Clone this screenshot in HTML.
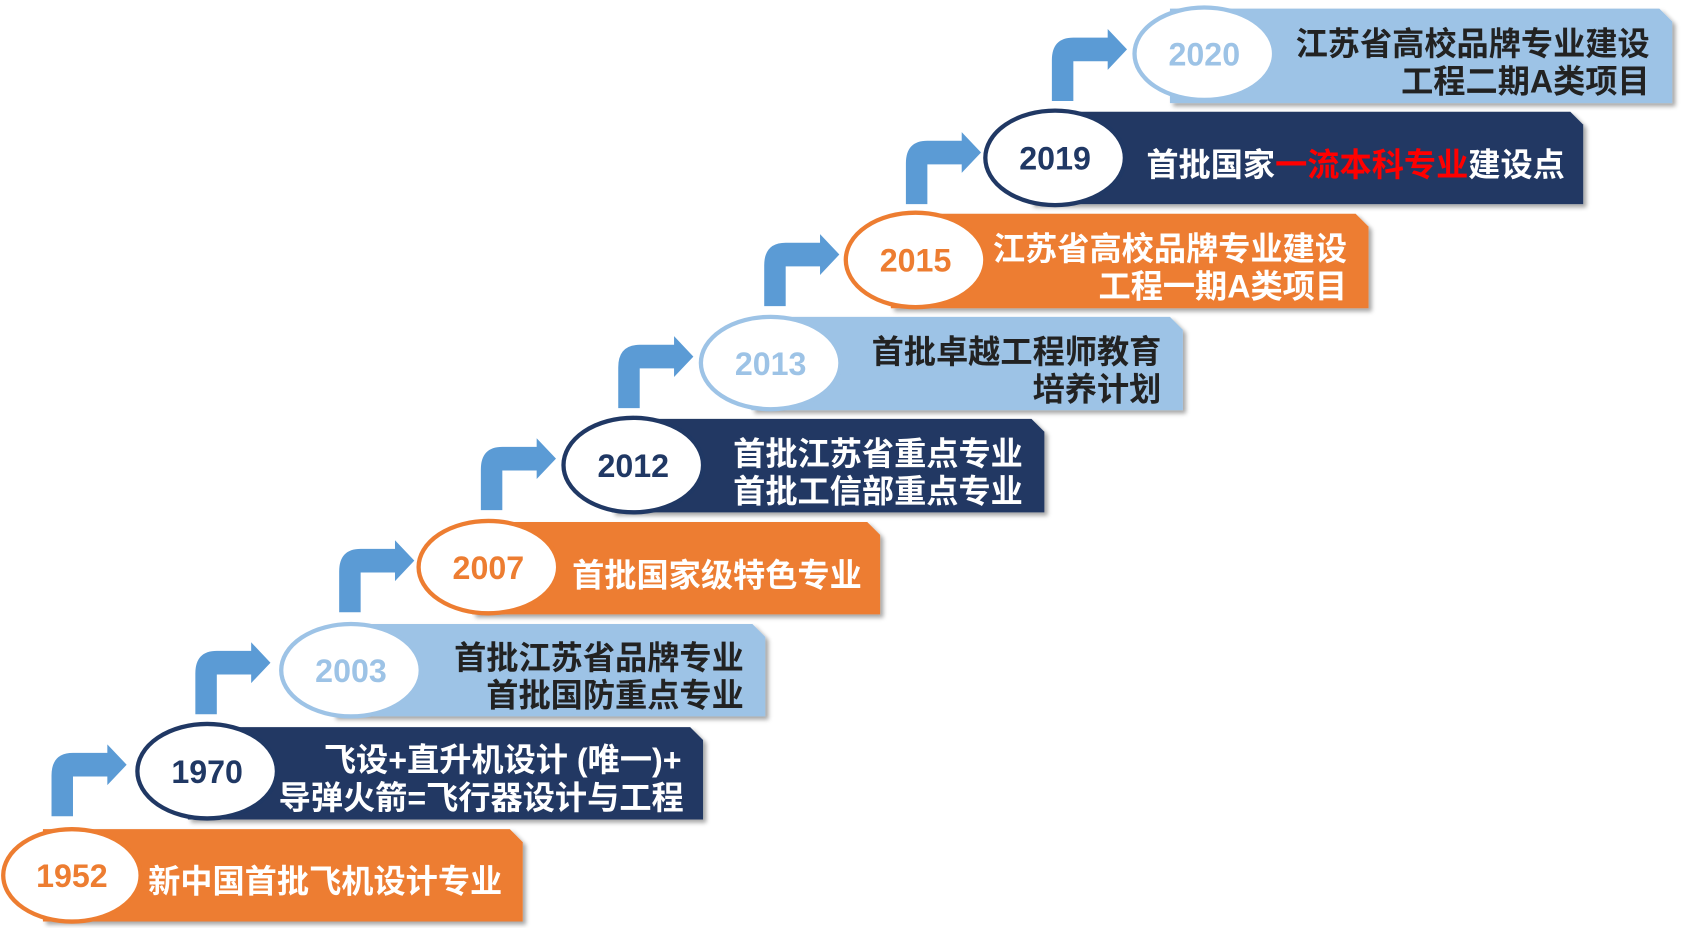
<!DOCTYPE html>
<html><head><meta charset="utf-8"><style>
html,body{margin:0;padding:0;background:#fff;}
svg{display:block;}
.yr{font-family:"Liberation Sans","Noto Sans CJK SC",sans-serif;font-size:30px;font-weight:bold;text-anchor:middle;}
.t{font-family:"Liberation Sans","Noto Sans CJK SC",sans-serif;font-size:30px;font-weight:bold;}
</style></head><body>
<svg width="1683" height="928" viewBox="0 0 1568 864" preserveAspectRatio="none" xmlns="http://www.w3.org/2000/svg">
<defs>
<filter id="sh" x="-5%" y="-10%" width="115%" height="130%"><feDropShadow dx="3" dy="3" stdDeviation="2" flood-color="#000" flood-opacity="0.35"/></filter>
</defs>
<g filter="url(#sh)">
<path d="M40,772 H475 L487,784 V858 H40 Z" fill="#ED7D31"/>
<path d="M175,677 H643 L655,689 V763 H175 Z" fill="#203864"/>
<path d="M310,581 H701 L713,593 V667 H310 Z" fill="#9DC3E6"/>
<path d="M440,486 H808 L820,498 V572 H440 Z" fill="#ED7D31"/>
<path d="M570,390 H961 L973,402 V477 H570 Z" fill="#203864"/>
<path d="M700,295 H1090 L1102,307 V382 H700 Z" fill="#9DC3E6"/>
<path d="M830,199 H1263 L1275,211 V287 H830 Z" fill="#ED7D31"/>
<path d="M960,104 H1463 L1475,116 V190 H960 Z" fill="#203864"/>
<path d="M1090,8 H1546 L1558,20 V96 H1090 Z" fill="#9DC3E6"/>
</g>
<g fill="#5B9BD5">
<path d="M48,760 V722 Q48,701 68,701 H100 V693 L118,712 L100,731 V723 H68 V760 Z"/>
<path d="M182,665 V627 Q182,606 202,606 H234 V598 L252,617 L234,636 V628 H202 V665 Z"/>
<path d="M316,570 V532 Q316,511 336,511 H368 V503 L386,522 L368,541 V533 H336 V570 Z"/>
<path d="M448,475 V437 Q448,416 468,416 H500 V408 L518,427 L500,446 V438 H468 V475 Z"/>
<path d="M576,380 V342 Q576,321 596,321 H628 V313 L646,332 L628,351 V343 H596 V380 Z"/>
<path d="M712,285 V247 Q712,226 732,226 H764 V218 L782,237 L764,256 V248 H732 V285 Z"/>
<path d="M844,190 V152 Q844,131 864,131 H896 V123 L914,142 L896,161 V153 H864 V190 Z"/>
<path d="M980,94 V56 Q980,35 1000,35 H1032 V27 L1050,46 L1032,65 V57 H1000 V94 Z"/>
</g>
<g fill="#fff" stroke-width="4">
<ellipse cx="67" cy="815" rx="64" ry="43" stroke="#ED7D31"/>
<ellipse cx="193" cy="718" rx="65" ry="44" stroke="#203864"/>
<ellipse cx="327" cy="624" rx="65" ry="43" stroke="#9DC3E6"/>
<ellipse cx="455" cy="528" rx="65" ry="43" stroke="#ED7D31"/>
<ellipse cx="590" cy="433" rx="65" ry="44" stroke="#203864"/>
<ellipse cx="718" cy="338" rx="65" ry="43" stroke="#9DC3E6"/>
<ellipse cx="853" cy="242" rx="65" ry="44" stroke="#ED7D31"/>
<ellipse cx="983" cy="147" rx="65" ry="44" stroke="#203864"/>
<ellipse cx="1122" cy="50" rx="65" ry="43" stroke="#9DC3E6"/>
</g>
<g class="yr">
<text x="67" y="826" fill="#ED7D31">1952</text>
<text x="193" y="729" fill="#203864">1970</text>
<text x="327" y="635" fill="#9DC3E6">2003</text>
<text x="455" y="539" fill="#ED7D31">2007</text>
<text x="590" y="444" fill="#203864">2012</text>
<text x="718" y="349" fill="#9DC3E6">2013</text>
<text x="853" y="253" fill="#ED7D31">2015</text>
<text x="983" y="158" fill="#203864">2019</text>
<text x="1122" y="61" fill="#9DC3E6">2020</text>
</g>
<g class="t">
<text x="138" y="831" fill="#fff">新中国首批飞机设计专业</text>
<text x="635" y="718" fill="#fff" text-anchor="end">飞设+直升机设计 (唯一)+</text>
<text x="637" y="753" fill="#fff" text-anchor="end">导弹火箭=飞行器设计与工程</text>
<text x="693" y="623" fill="#222" text-anchor="end">首批江苏省品牌专业</text>
<text x="693" y="658" fill="#222" text-anchor="end">首批国防重点专业</text>
<text x="533" y="546" fill="#fff">首批国家级特色专业</text>
<text x="953" y="433" fill="#fff" text-anchor="end">首批江苏省重点专业</text>
<text x="953" y="468" fill="#fff" text-anchor="end">首批工信部重点专业</text>
<text x="1082" y="338" fill="#222" text-anchor="end">首批卓越工程师教育</text>
<text x="1082" y="373" fill="#222" text-anchor="end">培养计划</text>
<text x="1255" y="242" fill="#fff" text-anchor="end">江苏省高校品牌专业建设</text>
<text x="1255" y="277" fill="#fff" text-anchor="end">工程一期A类项目</text>
<text x="1068" y="164" fill="#fff">首批国家<tspan fill="#FF0000">一流本科专业</tspan>建设点</text>
<text x="1537" y="51" fill="#222" text-anchor="end">江苏省高校品牌专业建设</text>
<text x="1537" y="86" fill="#222" text-anchor="end">工程二期A类项目</text>
</g>
</svg>
</body></html>
